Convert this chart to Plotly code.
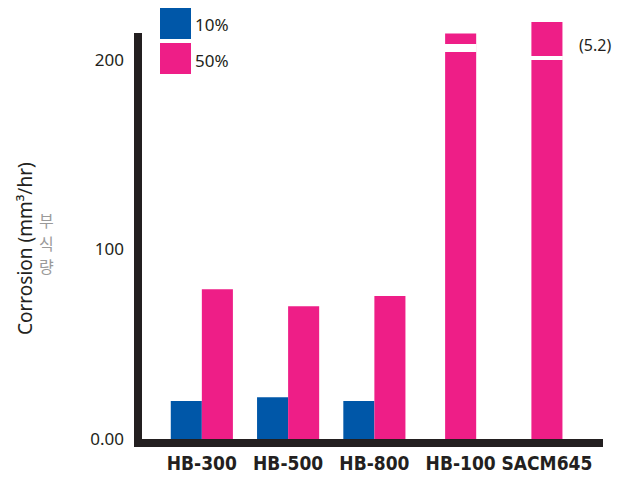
import plotly.graph_objects as go

# Corrosion rate per alloy at two concentrations
alloys = ["HB-300", "HB-500", "HB-800", "HB-100", "SACM645"]
rate_10 = [20, 22, 20, None, None]
rate_50 = [79, 70, 75.5, 214, 220]
# axis-break bands drawn across the two tall bars (lower, upper edge)
break_lo = [None, None, None, 204.2, 200.0]
break_hi = [None, None, None, 208.4, 202.1]
sacm_note = "(5.2)"
y_ticks = [0, 100, 200]
y_tick_text = ["0.00", "100", "200"]
ko_label = ["부", "식", "량"]

BLUE = "#0057a8"
PINK = "#ee1e87"
INK = "#231f20"

W, H = 624, 482
m_l, m_r, m_t, m_b = 138, 21, 15, 39
plot_w, plot_h = W - m_l - m_r, H - m_t - m_b

y_range = [-2.11, 223.75]
x_range = [-0.74, 4.65]
axis_top = 214.2
bar_w = 0.36

def paper_y(v):
    return (v - y_range[0]) / (y_range[1] - y_range[0])

# pink bars sit right of centre when paired, centred when alone
pink_offset = [0 if b is not None else -bar_w / 2 for b in rate_10]
break_h = [None if lo is None else hi - lo for lo, hi in zip(break_lo, break_hi)]

fig = go.Figure()
fig.add_trace(go.Bar(x=alloys, y=rate_10, name="10%", marker_color=BLUE,
                     width=bar_w, offset=-bar_w, marker_line_width=0))
fig.add_trace(go.Bar(x=alloys, y=rate_50, name="50%", marker_color=PINK,
                     width=bar_w, offset=pink_offset, marker_line_width=0))
fig.add_trace(go.Bar(x=alloys, y=break_h, base=break_lo, marker_color="white",
                     width=bar_w + 0.01, offset=[o - 0.005 for o in pink_offset],
                     marker_line_width=0, showlegend=False, hoverinfo="skip"))

shapes = [
    # x axis bar
    dict(type="line", xref="paper", yref="paper", x0=-4 / plot_w, x1=1, y0=0, y1=0,
         line=dict(color=INK, width=8)),
    # y axis bar
    dict(type="line", xref="paper", yref="paper", x0=0, x1=0, y0=-4 / plot_h,
         y1=paper_y(axis_top), line=dict(color=INK, width=8)),
]

def px_x(px):
    return (px - m_l) / plot_w

def px_y(py):
    return (H - m_b - py) / plot_h

# legend swatches
for (top, bot), col in [((8, 39), BLUE), ((43, 74), PINK)]:
    shapes.append(dict(type="rect", xref="paper", yref="paper",
                       x0=px_x(160), x1=px_x(191), y0=px_y(bot), y1=px_y(top),
                       fillcolor=col, line_width=0))

annotations = [
    dict(text="10%", xref="paper", yref="paper", x=px_x(193), y=px_y(24),
         xanchor="left", yanchor="middle", showarrow=False,
         font=dict(family="Noto Sans", size=17, color=INK)),
    dict(text="50%", xref="paper", yref="paper", x=px_x(193), y=px_y(60),
         xanchor="left", yanchor="middle", showarrow=False,
         font=dict(family="Noto Sans", size=17, color=INK)),
    dict(text=sacm_note, xref="paper", yref="paper", x=px_x(577), y=px_y(45),
         xanchor="left", yanchor="middle", showarrow=False,
         font=dict(family="Noto Sans", size=16, color=INK)),
    dict(text="Corrosion (mm³/hr)", xref="paper", yref="paper", x=px_x(25),
         y=px_y(249), xanchor="center", yanchor="middle", textangle=-90,
         showarrow=False, font=dict(family="Noto Sans", size=19, color=INK)),
]
# vertical Korean caption, one syllable per line
for i, ch in enumerate(ko_label):
    annotations.append(dict(text=ch, xref="paper", yref="paper", x=px_x(46),
                            y=px_y(220 + 23 * i), xanchor="center", yanchor="middle",
                            showarrow=False,
                            font=dict(family="Noto Sans CJK KR", size=16,
                                      color="#9a9a9a")))

fig.update_layout(
    width=W, height=H,
    margin=dict(l=m_l, r=m_r, t=m_t, b=m_b, pad=0, autoexpand=False),
    paper_bgcolor="white", plot_bgcolor="white",
    barmode="overlay", showlegend=False,
    shapes=shapes, annotations=annotations,
    xaxis=dict(type="category", categoryorder="array", categoryarray=alloys,
               range=x_range, showgrid=False, zeroline=False, showline=False,
               ticks="", ticklabelstandoff=7, automargin=False,
               tickfont=dict(family="DejaVu Sans Condensed", size=19,
                             color=INK, weight="bold")),
    yaxis=dict(range=y_range, tickvals=y_ticks, ticktext=y_tick_text,
               showgrid=False, zeroline=False, showline=False, ticks="",
               ticklabelstandoff=13, automargin=False,
               tickfont=dict(family="Noto Sans", size=17, color=INK)),
)

fig.write_html("out.html")
